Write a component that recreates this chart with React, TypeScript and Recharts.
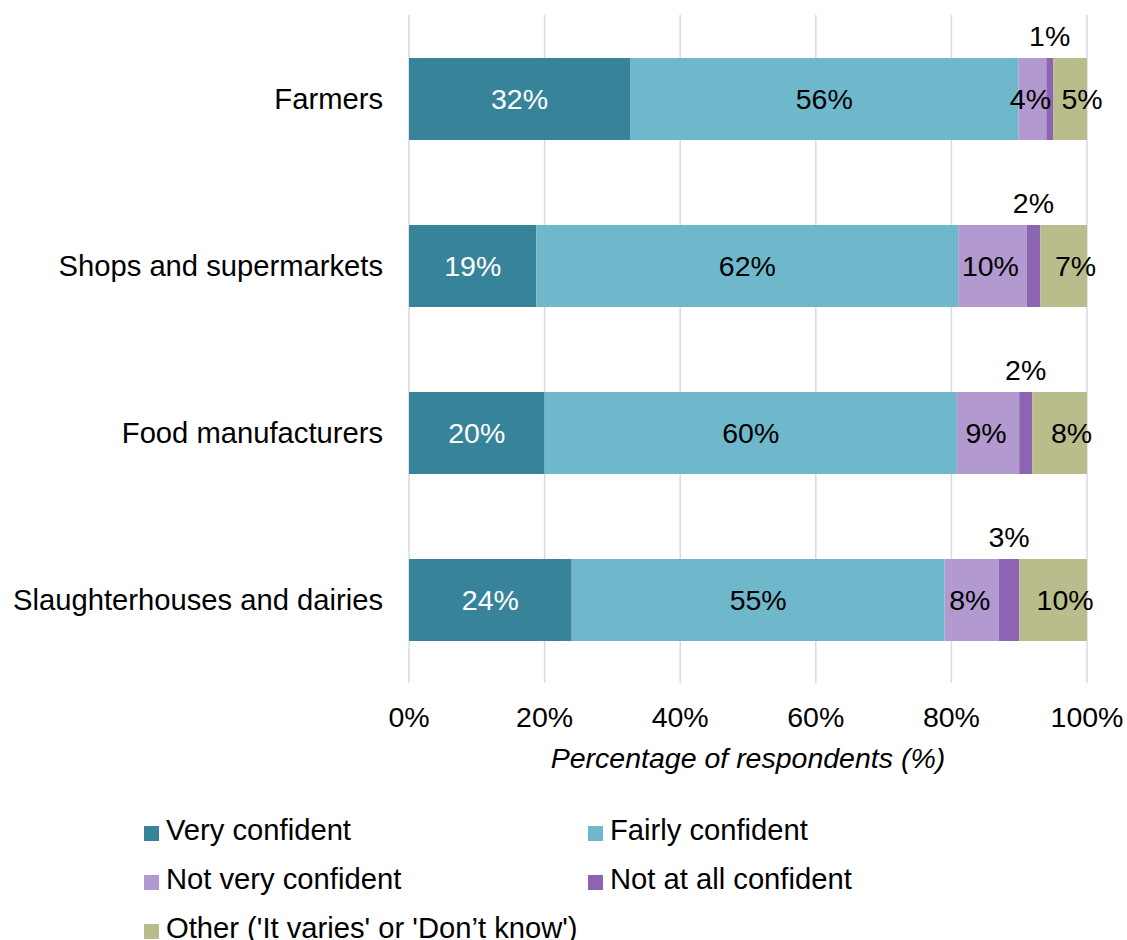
import React from 'react'
import { Bar, BarChart, CartesianGrid, LabelList, XAxis, YAxis } from 'recharts'

const CATEGORIES = ['Farmers', 'Shops and supermarkets', 'Food manufacturers', 'Slaughterhouses and dairies']

// bar widths
const VERY = [32.6, 18.8, 20.0, 24.0]
const FAIRLY = [57.3, 62.2, 60.8, 55.0]
const NOT_VERY = [4.1, 10.1, 9.2, 8.0]
const NOT_AT_ALL = [1.0, 2.0, 1.9, 3.0]
const OTHER = [5.0, 6.9, 8.1, 10.0]

// printed data labels
const VERY_LABELS = ['32%', '19%', '20%', '24%']
const FAIRLY_LABELS = ['56%', '62%', '60%', '55%']
const NOT_VERY_LABELS = ['4%', '10%', '9%', '8%']
const NOT_AT_ALL_LABELS = ['1%', '2%', '2%', '3%']
const OTHER_LABELS = ['5%', '7%', '8%', '10%']

const X_TICKS = [0, 20, 40, 60, 80, 100]

const FONT = 28.5
const CAT_FONT = 29.2

type Placement = 'center' | 'top'

interface SeriesDef {
  key: string
  name: string
  color: string
  textColor: string
  values: number[]
  labels: string[]
  placement: Placement
  dx: number
}

const SERIES: SeriesDef[] = [
  { key: 'very', name: 'Very confident', color: '#37849a', textColor: '#fff', values: VERY, labels: VERY_LABELS, placement: 'center', dx: 0 },
  { key: 'fairly', name: 'Fairly confident', color: '#6fb8cc', textColor: '#000', values: FAIRLY, labels: FAIRLY_LABELS, placement: 'center', dx: 0 },
  { key: 'notVery', name: 'Not very confident', color: '#b299cf', textColor: '#000', values: NOT_VERY, labels: NOT_VERY_LABELS, placement: 'center', dx: -2 },
  { key: 'notAtAll', name: 'Not at all confident', color: '#8d64b2', textColor: '#000', values: NOT_AT_ALL, labels: NOT_AT_ALL_LABELS, placement: 'top', dx: 0 },
  { key: 'other', name: "Other ('It varies' or 'Don’t know')", color: '#b9bc8b', textColor: '#000', values: OTHER, labels: OTHER_LABELS, placement: 'center', dx: 12 },
]

const LEGEND_ORDER = ['very', 'fairly', 'notVery', 'notAtAll', 'other']

const chartData = CATEGORIES.map((name, i) => {
  const row: Record<string, string | number> = { name }
  for (const s of SERIES) row[s.key] = s.values[i]!
  return row
})

function makeLabel(s: SeriesDef) {
  return (props: any) => {
    const x = Number(props.x)
    const y = Number(props.y)
    const w = Number(props.width)
    const h = Number(props.height)
    const idx = Number(props.index)
    const cx = x + w / 2 + s.dx
    const cy = s.placement === 'top' ? y - 22 : y + h / 2
    return (
      <text
        x={cx}
        y={cy}
        textAnchor="middle"
        dominantBaseline="central"
        fill={s.textColor}
        fontSize={FONT}
      >
        {s.labels[idx]}
      </text>
    )
  }
}

export default function App() {
  const legendItems = LEGEND_ORDER.map((k) => SERIES.find((s) => s.key === k)!)
  return (
    <div
      style={{
        position: 'absolute',
        left: 0,
        top: 0,
        width: 1127,
        height: 940,
        background: '#fff',
        fontFamily: '"Liberation Sans", Arial, sans-serif',
      }}
    >
      <BarChart
        width={1127}
        height={790}
        data={chartData}
        layout="vertical"
        margin={{ top: 15, right: 40, left: 0, bottom: 0 }}
        style={{ overflow: 'visible' }}
      >
        <CartesianGrid horizontal={false} stroke="#dcd6ea" strokeWidth={1.5} />
        <XAxis
          type="number"
          domain={[0, 100]}
          ticks={X_TICKS}
          tickFormatter={(v: number) => `${v}%`}
          axisLine={false}
          tickLine={false}
          tickSize={0}
          tickMargin={24}
          height={107}
          tick={{ fill: '#000', fontSize: FONT }}
          interval={0}
          label={{
            value: 'Percentage of respondents (%)',
            position: 'insideBottom',
            offset: 22,
            fill: '#000',
            fontSize: FONT,
            fontStyle: 'italic',
          }}
        />
        <YAxis
          type="category"
          dataKey="name"
          width={409}
          axisLine={false}
          tickLine={false}
          tickSize={0}
          tickMargin={26}
          tick={{ fill: '#000', fontSize: CAT_FONT }}
        />
        {SERIES.map((s) => (
          <Bar
            key={s.key}
            dataKey={s.key}
            name={s.name}
            stackId="a"
            fill={s.color}
            barSize={82}
            isAnimationActive={false}
          >
            <LabelList dataKey={s.key} content={makeLabel(s)} />
          </Bar>
        ))}
      </BarChart>

      <div
        style={{
          position: 'absolute',
          left: 144,
          top: 806,
          display: 'grid',
          gridTemplateColumns: '444px 444px',
          gridAutoRows: '49px',
          fontSize: CAT_FONT,
          color: '#000',
        }}
      >
        {legendItems.map((s) => (
          <div key={s.key} style={{ display: 'flex', alignItems: 'center', whiteSpace: 'nowrap' }}>
            <span
              style={{
                display: 'inline-block',
                width: 15,
                height: 15,
                background: s.color,
                marginRight: 7,
                transform: 'translateY(3px)',
              }}
            />
            <span>{s.name}</span>
          </div>
        ))}
      </div>
    </div>
  )
}
